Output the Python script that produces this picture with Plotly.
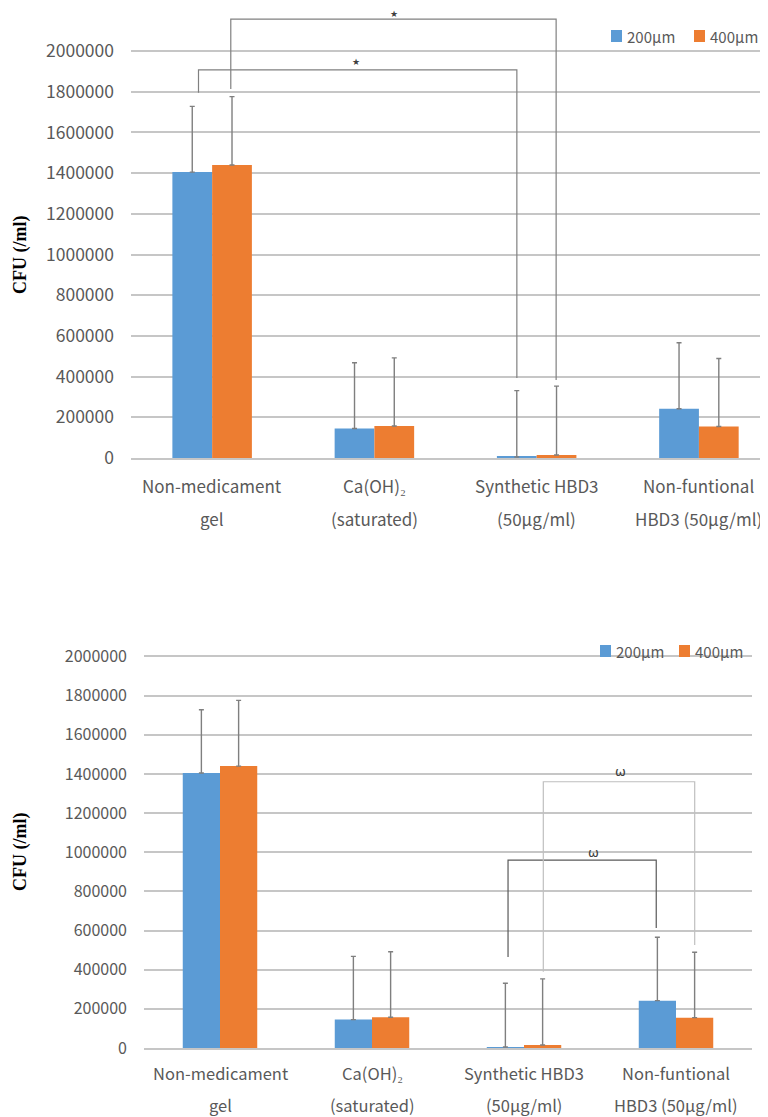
import plotly.graph_objects as go

# ---------------- data ----------------
categories = [["Non-medicament", "gel"],
              ["Ca(OH)₂", "(saturated)"],
              ["Synthetic HBD3", "(50µg/ml)"],
              ["Non-funtional", "HBD3 (50µg/ml)"]]
series_names = ["200µm", "400µm"]
vals_200 = [1405000, 145000, 5000, 242000]
vals_400 = [1440000, 157000, 15000, 155000]
errtop_200 = [1728000, 468000, 331000, 566000]
errtop_400 = [1776000, 492000, 353000, 489000]
tick_vals = [0, 200000, 400000, 600000, 800000, 1000000, 1200000,
             1400000, 1600000, 1800000, 2000000]
tick_text = [str(v) for v in tick_vals]
y_title = "CFU (/ml)"

# significance brackets: (x_left, y_left_bottom, x_right, y_right_bottom, y_top, label, label_x, label_y, color)
top_brackets = [
    (-0.084, 1795000, 1.878, 393000, 1907000, "★", 0.885, 1945000, "#808080"),
    (0.115, 1813000, 2.12, 383000, 2157000, "★", 1.121, 2180000, "#808080"),
]
bot_brackets = [
    (1.895, 465000, 2.870, 613000, 960000, "ω", 2.454, 1000000, "#595959"),
    (2.127, 390000, 3.123, 526000, 1360000, "ω", 2.632, 1415000, "#BFBFBF"),
]

BLUE = "#5B9BD5"
ORANGE = "#ED7D31"
GRID = "#C6C6C6"
TXT = "#595959"
W, H = 768, 1117
OFFX, OFFY = 8, 8   # page body margin


def py(px):
    return 1 - (px - OFFY) / H


def pxx(px):
    return (px - OFFX) / W


fig = go.Figure()
xs = list(range(len(categories)))

panels = [
    dict(x="x", y="y", dom_x=[pxx(131), 1.0], xr=[-0.5, (768 - 131) / 160.25 - 0.5],
         dom_y=[py(458), py(10)], yr=[0, 2201500], brackets=top_brackets,
         lab_y=(485, 519), title_y=255, tick_size=17.5, lab_size=17,
         leg=(611, 36, 83)),
    dict(x="x2", y="y2", dom_x=[pxx(144), pxx(752)], xr=[-0.5, 3.5],
         dom_y=[py(1048), py(645)], yr=[0, 2058700], brackets=bot_brackets,
         lab_y=(1073, 1105), title_y=852, tick_size=16, lab_size=16.5,
         leg=(600, 651, 79)),
]

for p in panels:
    for name, vals, tops, col in [(series_names[0], vals_200, errtop_200, BLUE),
                                  (series_names[1], vals_400, errtop_400, ORANGE)]:
        fig.add_trace(go.Bar(
            x=xs, y=vals, name=name, marker=dict(color=col, line=dict(width=0)),
            xaxis=p["x"], yaxis=p["y"], showlegend=False,
            error_y=dict(type="data", symmetric=False,
                         array=[t - v for t, v in zip(tops, vals)],
                         arrayminus=[0] * len(vals),
                         color="#7F7F7F", thickness=1.4, width=2.5),
        ))

    for (xl, yl, xr_, yr_, yt, lab, lx, ly, col) in p["brackets"]:
        fig.add_shape(type="path",
                      path=f"M {xl},{yl} L {xl},{yt} L {xr_},{yt} L {xr_},{yr_}",
                      xref=p["x"], yref=p["y"], line=dict(color=col, width=1.2))
        fig.add_annotation(x=lx, y=ly, xref=p["x"], yref=p["y"], text=lab, showarrow=False,
                           xanchor="center", yanchor="middle",
                           font=dict(size=9 if lab == "★" else 13, color="#404040",
                                     family="DejaVu Sans"))

    for i, (l1, l2) in enumerate(categories):
        for txt, ypx in zip((l1, l2), p["lab_y"]):
            fig.add_annotation(x=i, y=py(ypx), xref=p["x"], yref="paper", text=txt,
                               showarrow=False, xanchor="center", yanchor="middle",
                               font=dict(size=p["lab_size"], color=TXT, family="Noto Sans CJK KR"))

    fig.add_annotation(x=pxx(20), y=py(p["title_y"]), xref="paper", yref="paper",
                       text=f"<b>{y_title}</b>", textangle=-90, showarrow=False,
                       xanchor="center", yanchor="middle",
                       font=dict(size=18, color="#000000", family="Liberation Serif"))

    # legend (drawn as keyed squares and text)
    lx0, ly0, step = p["leg"]
    for j, (name, col) in enumerate([(series_names[0], BLUE), (series_names[1], ORANGE)]):
        x0 = lx0 + j * step
        fig.add_shape(type="rect", xref="paper", yref="paper",
                      x0=pxx(x0), x1=pxx(x0 + 11), y0=py(ly0 + 6), y1=py(ly0 - 6),
                      fillcolor=col, line=dict(width=0))
        fig.add_annotation(x=pxx(x0 + 14), y=py(ly0), xref="paper", yref="paper", text=name,
                           showarrow=False, xanchor="left", yanchor="middle",
                           font=dict(size=15, color=TXT, family="Noto Sans CJK KR"))

layout = dict(
    width=W, height=H, margin=dict(l=0, r=0, t=0, b=0, autoexpand=False),
    paper_bgcolor="white", plot_bgcolor="white",
    barmode="group", bargap=0.51, bargroupgap=0,
    showlegend=False,
)
for p, k in zip(panels, ["", "2"]):
    layout["xaxis" + k] = dict(domain=p["dom_x"], range=p["xr"], anchor="y" + k,
                               showgrid=False, zeroline=False, showticklabels=False,
                               showline=True, linecolor=GRID, linewidth=2, fixedrange=True,
                               automargin=False)
    layout["yaxis" + k] = dict(domain=p["dom_y"], range=p["yr"], anchor="x" + k,
                               tickvals=tick_vals, ticktext=tick_text, showgrid=True,
                               gridcolor=GRID, gridwidth=2, zeroline=False, showline=False,
                               ticks="", ticklabelstandoff=16, automargin=False,
                               tickfont=dict(size=p["tick_size"], color=TXT, family="Noto Sans CJK KR"))
fig.update_layout(**layout)

fig.write_html("out.html")
